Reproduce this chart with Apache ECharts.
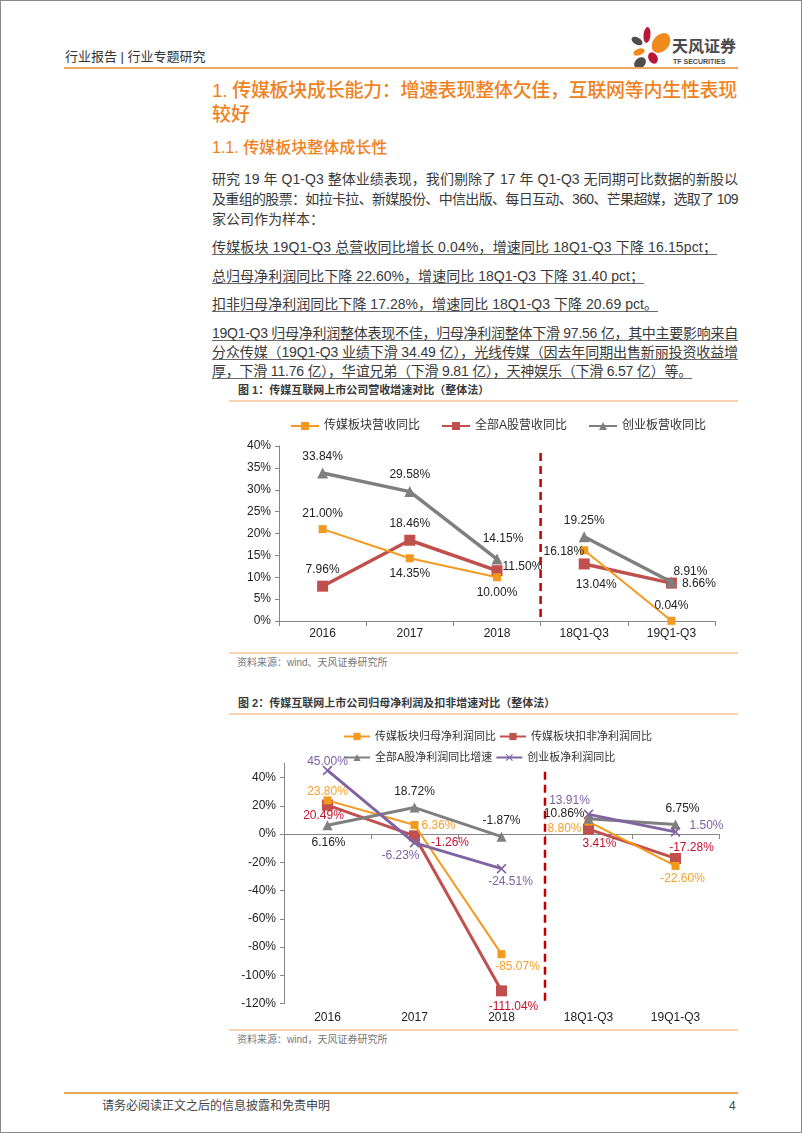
<!DOCTYPE html>
<html><head><meta charset="utf-8">
<script src="https://cdn.jsdelivr.net/npm/echarts@6/dist/echarts.min.js"></script>
<style>
html,body{margin:0;padding:0;background:#fff}
body{width:802px;height:1133px;position:relative;overflow:hidden;font-family:"Liberation Sans","Noto Sans CJK SC",sans-serif;color:#3a3a3a}
.frame{position:absolute;left:0;top:0;width:800px;height:1131px;border:1px solid #8a8a8a}
.t{position:absolute;white-space:nowrap}
.body{font-size:14px;line-height:14px;height:14px}
.ul{border-bottom:1px solid #6a6a6a}
.hr{position:absolute;height:2px;background:#F0A860}
.thin{position:absolute;height:2px;background:#F8D3AE}
.cap{font-size:11px;line-height:12px;font-weight:700;color:#3a3a3a}
.src{font-size:10px;line-height:12px;color:#777}
</style>
</head><body>
<div class="frame"></div>

<!-- header -->
<div class="t" style="left:65px;top:50px;font-size:13px;line-height:14px;color:#333">行业报告 | 行业专题研究</div>
<svg style="position:absolute;left:626px;top:24px" width="50" height="48" viewBox="0 0 50 48">
  <ellipse cx="21" cy="11" rx="3.5" ry="8" fill="#B8173A" transform="rotate(5 21 11)"/>
  <ellipse cx="11" cy="17" rx="6" ry="3.5" fill="#4D4D4D" transform="rotate(30 11 17)"/>
  <ellipse cx="35" cy="19" rx="8" ry="11" fill="#F08A1C" transform="rotate(40 35 19)"/>
  <ellipse cx="13" cy="28" rx="6" ry="3.2" fill="#F08A1C" transform="rotate(-20 13 28)"/>
  <ellipse cx="27" cy="34" rx="4.5" ry="6" fill="#B8173A" transform="rotate(-30 27 34)"/>
  <ellipse cx="14" cy="39" rx="6.5" ry="5" fill="#4D4D4D" transform="rotate(-40 14 39)"/>
</svg>
<div class="t" style="left:672px;top:38px;font-size:16px;line-height:18px;font-weight:700;color:#4a4a4a">天风证券</div>
<div class="t" style="left:673px;top:58px;font-size:7px;line-height:8px;font-weight:700;color:#4a4a4a">TF SECURITIES</div>
<div class="hr" style="left:64px;top:67px;width:674px"></div>

<div class="t" data-w="525" style="left:212px;top:80px;font-size:19px;line-height:22px;font-weight:500;color:#EF821E">1. 传媒板块成长能力：增速表现整体欠佳，互联网等内生性表现</div>
<div class="t" style="left:212px;top:104px;font-size:19px;line-height:22px;font-weight:500;color:#EF821E">较好</div>
<div class="t" style="left:212px;top:139px;font-size:16px;line-height:18px;font-weight:500;color:#EF821E">1.1. 传媒板块整体成长性</div>

<div class="t body" data-w="526" style="left:212px;top:172px">研究 19 年 Q1-Q3 整体业绩表现，我们剔除了 17 年 Q1-Q3 无同期可比数据的新股以</div>
<div class="t body" data-w="526" style="left:212px;top:192px">及重组的股票：如拉卡拉、新媒股份、中信出版、每日互动、360、芒果超媒，选取了 109</div>
<div class="t body" style="left:212px;top:212px">家公司作为样本：</div>

<div class="t body ul" data-w="505" style="left:212px;top:240px">传媒板块 19Q1-Q3 总营收同比增长 0.04%，增速同比 18Q1-Q3 下降 16.15pct；</div>
<div class="t body ul" data-w="432" style="left:212px;top:269px">总归母净利润同比下降 22.60%，增速同比 18Q1-Q3 下降 31.40 pct；</div>
<div class="t body ul" data-w="446" style="left:212px;top:297px">扣非归母净利润同比下降 17.28%，增速同比 18Q1-Q3 下降 20.69 pct。</div>
<div class="t body ul" data-w="526" style="left:212px;top:326px">19Q1-Q3 归母净利润整体表现不佳，归母净利润整体下滑 97.56 亿，其中主要影响来自</div>
<div class="t body ul" data-w="526" style="left:212px;top:345px">分众传媒（19Q1-Q3 业绩下滑 34.49 亿），光线传媒（因去年同期出售新丽投资收益增</div>
<div class="t body ul" data-w="480" style="left:212px;top:364px">厚，下滑 11.76 亿），华谊兄弟（下滑 9.81 亿），天神娱乐（下滑 6.57 亿）等。</div>

<!-- figure 1 -->
<div class="t cap" style="left:238px;top:384px">图 1：传媒互联网上市公司营收增速对比（整体法）</div>
<div class="thin" style="left:229px;top:400px;width:509px"></div>
<div id="c1" style="position:absolute;left:200px;top:405px;width:540px;height:246px"></div>
<div class="thin" style="left:229px;top:652px;width:509px"></div>
<div class="t src" style="left:237px;top:657px">资料来源：wind、天风证券研究所</div>

<!-- figure 2 -->
<div class="t cap" style="left:238px;top:697px">图 2：传媒互联网上市公司归母净利润及扣非增速对比（整体法）</div>
<div class="thin" style="left:229px;top:713px;width:509px"></div>
<div id="c2" style="position:absolute;left:200px;top:715px;width:540px;height:313px"></div>
<div class="thin" style="left:229px;top:1029px;width:509px"></div>
<div class="t src" style="left:237px;top:1034px">资料来源：wind，天风证券研究所</div>

<!-- footer -->
<div class="hr" style="left:64px;top:1092px;width:674px;background:#EDA54F"></div>
<div class="t" style="left:102px;top:1099px;font-size:12px;line-height:14px;color:#444">请务必阅读正文之后的信息披露和免责申明</div>
<div class="t" style="left:729px;top:1099px;font-size:12px;line-height:14px;color:#444">4</div>

<script>
// fit text lines to the measured widths of the original page
document.querySelectorAll('[data-w]').forEach(el => {
  const target = +el.dataset.w;
  const n = Array.from(el.textContent).length;
  const w = el.getBoundingClientRect().width;
  el.style.letterSpacing = ((target - w) / n) + 'px';
});

// ---------- data ----------
const categories = ['2016', '2017', '2018', '18Q1-Q3', '19Q1-Q3'];
const separatorAt = 3; // boundary between 2018 and 18Q1-Q3 on the category scale

// Figure 1: revenue growth (%)
const mediaRevenue = [21.00, 14.35, 10.00, 16.18, 0.04];
const allARevenue  = [7.96, 18.46, 11.50, 13.04, 8.66];
const gemRevenue   = [33.84, 29.58, 14.15, 19.25, 8.91];
const chart1Ticks  = [0, 40, 5];

// Figure 2: net profit growth (%)
const mediaNetProfit    = [23.80, 6.36, -85.07, 8.80, -22.60];
const mediaDeductProfit = [20.49, -1.26, -111.04, 3.41, -17.28];
const allANetProfit     = [6.16, 18.72, -1.87, 10.86, 6.75];
const gemNetProfit      = [45.00, -6.23, -24.51, 13.91, 1.50];
const chart2Ticks       = [-120, 50, 20];

// ---------- styling ----------
const FONT = "'Liberation Sans','Noto Sans CJK SC',sans-serif";
const ORANGE = '#F39A1E', RED = '#C0504D', GREY = '#7F7F7F', PURPLE = '#8064A2', AXIS = '#868686';
const XMARK = 'path://M0,1.2L1.2,0L5,3.8L8.8,0L10,1.2L6.2,5L10,8.8L8.8,10L5,6.2L1.2,10L0,8.8L3.8,5Z';

// each series is drawn as two segments (annual / Q1-Q3) sharing one legend name
function mk(name, vals, color, width, symbol, size, pos, off, lblColor, z) {
  const part = (from, to) => ({
    name, type: 'line', z: z || 2,
    data: vals.map((v, i) => (i >= from && i < to)
      ? ({ value: v, label: { position: pos[i], offset: off[i] } }) : '-'),
    lineStyle: { color, width }, itemStyle: { color, borderWidth: 0 },
    symbol, symbolSize: size, showSymbol: true, showAllSymbol: true, connectNulls: false,
    label: { show: true, color: lblColor, fontSize: 12, fontFamily: FONT, distance: 5,
             formatter: p => p.value.toFixed(2) + '%' },
    emphasis: { disabled: true }, animation: false
  });
  return [part(0, separatorAt), part(separatorAt, vals.length)];
}
function sep(top, bottom, xIdx) {
  return { type: 'line', xAxisIndex: xIdx, data: [[separatorAt, top], [separatorAt, bottom]],
    symbol: 'none', silent: true, lineStyle: { color: '#C00000', width: 2.5, type: [8, 5] },
    animation: false, z: 1 };
}
const yAxisBase = (t) => ({
  type: 'value', min: t[0], max: t[1], interval: t[2],
  axisLine: { show: true, onZero: false, lineStyle: { color: AXIS, width: 1 } },
  axisTick: { show: true, length: 4, lineStyle: { color: AXIS } },
  splitLine: { show: false },
  axisLabel: { color: '#222', fontSize: 12, fontFamily: FONT, formatter: '{value}%', showMaxLabel: t[1] % t[2] === 0 }
});
const legendText = (fs) => ({ color: '#333', fontSize: fs, fontFamily: FONT });

// ---------- chart 1 ----------
const c1 = echarts.init(document.getElementById('c1'), null, { renderer: 'canvas' });
c1.setOption({
  animation: false,
  grid: { left: 79, top: 41, width: 436, height: 175 },
  legend: { left: 85, top: 10, itemWidth: 28, itemHeight: 10, itemGap: 21,
            textStyle: legendText(12), data: ['传媒板块营收同比', '全部A股营收同比', '创业板营收同比'] },
  xAxis: [
    { type: 'category', data: categories, boundaryGap: true,
      axisLine: { show: true, onZero: false, lineStyle: { color: AXIS } },
      axisTick: { show: true, length: 5, lineStyle: { color: AXIS } },
      axisLabel: { color: '#222', fontSize: 12, fontFamily: FONT, margin: 7 } },
    { type: 'value', min: 0, max: categories.length, show: false }
  ],
  yAxis: yAxisBase(chart1Ticks),
  series: [
    ...mk('传媒板块营收同比', mediaRevenue, ORANGE, 2, 'rect', 8,
       ['top', 'bottom', 'bottom', 'left', 'top'], [[0,0],[0,0],[0,0],[9,1],[0,0]], '#222', 3),
    ...mk('全部A股营收同比', allARevenue, RED, 3.5, 'rect', 11,
       ['top', 'top', 'right', 'bottom', 'right'], [[0,0],[0,0],[-5,-4],[12,4],[0,1]], '#222', 2),
    ...mk('创业板营收同比', gemRevenue, GREY, 3.5, 'triangle', 11,
       ['top', 'top', 'top', 'top', 'top'], [[0,0],[0,0],[6,-4],[0,0],[19,6]], '#222', 4),
    sep(38.4, 0.9, 1)
  ]
});

// ---------- chart 2 ----------
const c2 = echarts.init(document.getElementById('c2'), null, { renderer: 'canvas' });
c2.setOption({
  animation: false,
  grid: { left: 84, top: 48.4, width: 435, height: 240.1 },
  legend: [
    { left: 138, top: 11, itemWidth: 26, itemHeight: 9, itemGap: 3, textStyle: legendText(11),
      data: ['传媒板块归母净利润同比', '传媒板块扣非净利润同比'] },
    { left: 138, top: 32, itemWidth: 26, itemHeight: 9, itemGap: 3, textStyle: legendText(11),
      data: ['全部A股净利润同比增速', '创业板净利润同比'] }
  ],
  xAxis: [
    { type: 'category', data: categories, boundaryGap: true,
      axisLine: { show: false, onZero: false }, axisTick: { show: false },
      axisLabel: { color: '#222', fontSize: 12, fontFamily: FONT, margin: 8 } },
    { type: 'category', data: categories, boundaryGap: true, position: 'bottom',
      axisLine: { show: true, onZero: true, lineStyle: { color: AXIS } },
      axisTick: { show: true, length: 5, lineStyle: { color: AXIS } },
      axisLabel: { show: false } },
    { type: 'value', min: 0, max: categories.length, show: false, axisLine: { onZero: false } }
  ],
  yAxis: yAxisBase(chart2Ticks),
  series: [
    ...mk('传媒板块归母净利润同比', mediaNetProfit, ORANGE, 2, 'rect', 8,
       ['top', 'right', 'bottom', 'left', 'bottom'], [[0,6],[-2,1],[16,-2],[2,7],[7,-2]], '#F5A02C', 3),
    ...mk('传媒板块扣非净利润同比', mediaDeductProfit, RED, 3, 'rect', 11,
       ['bottom', 'right', 'bottom', 'bottom', 'top'], [[-4,-6],[6,7],[12,-1],[11,-2],[16,6]], '#C8102E', 2),
    ...mk('全部A股净利润同比增速', allANetProfit, GREY, 3, 'triangle', 10,
       ['bottom', 'top', 'top', 'left', 'top'], [[1,1],[0,0],[0,0],[6,-5],[7,0]], '#222', 4),
    ...mk('创业板净利润同比', gemNetProfit, PURPLE, 3, XMARK, 10,
       ['top', 'bottom', 'bottom', 'top', 'right'], [[0,7],[-14,-3],[9,-3],[-19,2],[4,-6]], '#7B5EA7', 5),
    sep(44, -121, 2)
  ]
});
</script>
</body></html>
